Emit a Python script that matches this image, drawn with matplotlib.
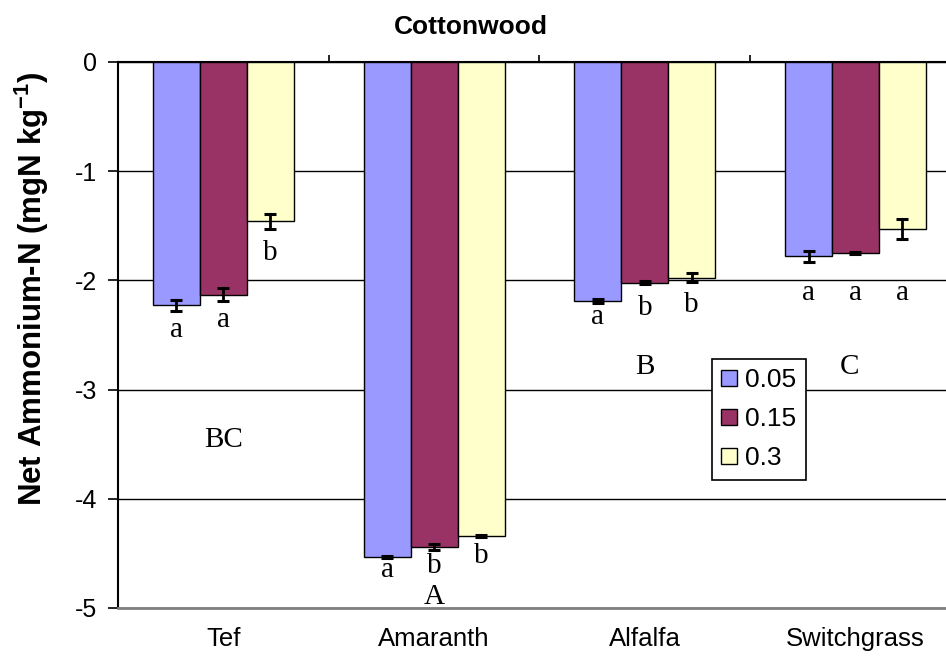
import numpy as np
import matplotlib
matplotlib.use("Agg")
import matplotlib.pyplot as plt
from matplotlib.ticker import FixedLocator

plt.rcParams['font.family'] = ['Liberation Sans', 'DejaVu Sans']
plt.rcParams['mathtext.fontset'] = 'custom'
plt.rcParams['mathtext.rm'] = 'Liberation Sans'
plt.rcParams['mathtext.bf'] = 'Liberation Sans:bold'

# data
crops = ['Tef', 'Amaranth', 'Alfalfa', 'Switchgrass']
series = ['0.05', '0.15', '0.3']
vals_005 = [-2.23, -4.53, -2.19, -1.78]
vals_015 = [-2.13, -4.44, -2.02, -1.75]
vals_03 = [-1.46, -4.34, -1.975, -1.53]
err_005 = [0.05, 0.01, 0.02, 0.05]
err_015 = [0.06, 0.03, 0.01, 0.01]
err_03 = [0.07, 0.01, 0.04, 0.09]
letters_005 = ['a', 'a', 'a', 'a']
letters_015 = ['a', 'b', 'b', 'a']
letters_03 = ['b', 'b', 'b', 'a']
crop_letters = ['BC', 'A', 'B', 'C']

colors = ['#9999FF', '#993366', '#FFFFCC']

# where the letter text boxes sit (baseline, in axis units)
letter_base_005 = [-2.52, -4.72, -2.40, -2.18]
letter_base_015 = [-2.43, -4.68, -2.32, -2.18]
letter_base_03 = [-1.81, -4.59, -2.29, -2.18]
crop_letter_pos = [(0.0, -3.46), (0.0, -4.90), (0.0, -2.79), (-0.03, -2.79)]

fig = plt.figure(figsize=(9.46, 6.63), dpi=100)
ax = fig.add_axes([0.1247, 0.0830, 0.891, 0.8235])

x = np.arange(len(crops))
w = 0.223
all_vals = [vals_005, vals_015, vals_03]
all_err = [err_005, err_015, err_03]
all_letters = [letters_005, letters_015, letters_03]
all_base = [letter_base_005, letter_base_015, letter_base_03]

for i in range(3):
    pos = x + (i - 1) * w
    ax.bar(pos, all_vals[i], width=w, color=colors[i], edgecolor='black',
           linewidth=1, label=series[i], zorder=3)
    ax.errorbar(pos, all_vals[i], yerr=all_err[i], fmt='none', ecolor='black',
                elinewidth=2, capsize=4.5, capthick=2.2, zorder=4)
    for p, yb, t in zip(pos, all_base[i], all_letters[i]):
        ax.text(p, yb, t, ha='center', va='baseline',
                family='Liberation Serif', fontsize=21)

for (dx, y), t, xc in zip(crop_letter_pos, crop_letters, x):
    ax.text(xc + dx, y, t, ha='center', va='center',
            family='Liberation Serif', fontsize=21)

ax.set_xlim(-0.5, 3.5)
ax.set_ylim(-5, 0)
ax.set_yticks([0, -1, -2, -3, -4, -5])
ax.set_yticklabels(['0', '-1', '-2', '-3', '-4', '-5'])
ax.yaxis.grid(True, color='black', linewidth=1)
ax.set_axisbelow(True)

ax.set_xticks(x)
ax.set_xticklabels(crops)
ax.xaxis.set_minor_locator(FixedLocator([0.5, 1.5, 2.5]))
ax.tick_params(axis='x', which='major', length=0, pad=14, labelsize=18.5)
ax.tick_params(axis='x', which='minor', top=True, bottom=False, length=5,
               direction='out', width=1.2)
ax.tick_params(axis='y', length=7, width=1.2, labelsize=18, pad=8)

ax.spines['right'].set_visible(False)
ax.spines['top'].set_linewidth(1.5)
ax.spines['left'].set_linewidth(1.5)
ax.spines['bottom'].set_color('#808080')
ax.spines['bottom'].set_linewidth(2)

leg = ax.legend(loc='upper left', bbox_to_anchor=(0.705, 0.456), fontsize=19,
                frameon=True, fancybox=False, edgecolor='black',
                handlelength=0.6, handleheight=0.6, handletextpad=0.3,
                labelspacing=0.57, borderpad=0.35, borderaxespad=0)
leg.get_frame().set_linewidth(1.2)
leg.get_frame().set_alpha(1)

fig.text(0.498, 0.959, 'Cottonwood', ha='center', va='center',
         fontsize=19, fontweight='bold')
fig.text(0.034, 0.564, r'Net Ammonium-N (mgN kg$^{\mathbf{-1}}$)', rotation=90,
         ha='center', va='center', fontsize=22.5, fontweight='bold')

fig.savefig('out.png', dpi=100)
